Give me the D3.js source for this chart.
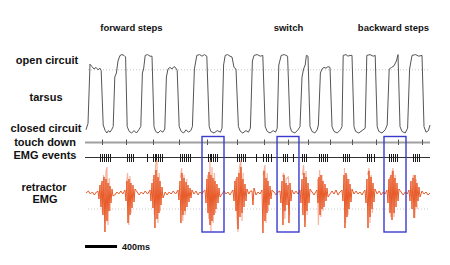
<!DOCTYPE html>
<html><head><meta charset="utf-8">
<script src="https://cdn.jsdelivr.net/npm/d3@7"></script>
<style>
html,body{margin:0;padding:0;background:#fff;}
svg{display:block;}
text{font-family:"Liberation Sans",Arial,sans-serif;font-weight:bold;fill:#111;}
</style></head>
<body>
<svg id="chart" width="450" height="265"></svg>
<script>
// ---- data (time in ms) ----
const phaseLabels = [["forward steps",569],["switch",2531],["backward steps",3844]];
const rowLabels = ["open circuit","tarsus","closed circuit","touch down","EMG events","retractor","EMG"];
const scaleBarMs = 400;
const scaleBarStart = -12;
const scaleBarLabel = "400ms";

// tarsus position trace [t, value] (0 = closed circuit, 100 = open)
const tarsus = [
[0,4],[25,12],[50,86],[75,83],[100,80],[125,82],[150,79],[175,81],[190,78],
[215,10],[240,3],[260,0],[280,3],[300,1],[320,4],[340,8],
[360,70],[380,75],[400,90],[425,97],[450,98],[475,97],[495,95],
[515,8],[540,2],[570,0],[600,3],[630,0],[660,4],[685,8],
[705,75],[720,80],[740,97],[770,98],[800,96],[825,96],
[850,8],[870,2],[900,0],[930,3],[960,1],[985,5],
[1005,70],[1025,80],[1050,82],[1075,80],[1100,83],[1125,81],[1140,78],
[1165,8],[1190,2],[1220,0],[1250,4],[1280,1],[1310,3],[1330,8],
[1355,80],[1385,97],[1420,98],[1450,96],[1480,98],[1510,96],
[1540,8],[1560,2],[1600,0],[1640,3],[1680,1],[1700,6],
[1720,85],[1740,97],[1770,98],[1800,96],[1825,95],[1850,82],[1875,80],
[1905,8],[1930,2],[1960,0],[2000,3],[2030,1],[2055,6],
[2080,90],[2100,97],[2140,98],[2180,96],[2210,97],
[2240,8],[2265,2],[2300,0],[2340,3],[2370,1],[2390,6],
[2410,85],[2440,97],[2480,98],[2520,96],
[2550,8],[2570,2],[2610,0],[2650,4],[2675,8],
[2700,70],[2720,80],[2740,85],[2755,97],[2775,96],
[2800,8],[2825,2],[2860,0],[2890,4],[2905,10],
[2930,75],[2950,80],[2975,82],[3000,81],[3025,83],[3050,82],
[3075,8],[3100,2],[3140,0],[3180,4],[3200,8],
[3215,97],[3250,98],[3275,96],[3300,97],[3325,97],
[3350,8],[3370,2],[3410,0],[3450,3],[3490,6],
[3510,97],[3550,98],[3590,96],[3615,97],
[3640,8],[3660,2],[3700,0],[3740,4],[3765,10],
[3790,80],[3820,82],[3850,84],[3880,90],[3900,98],
[3925,8],[3950,2],[3990,0],[4020,6],
[4045,80],[4075,97],[4120,98],[4160,96],[4200,97],
[4225,8],[4250,1],[4280,3],[4300,10]
];
const openLevel = 79; // dotted reference line

// touch down events
const touchDown = [200,500,838,1162,1512,1888,2225,2525,2775,3050,3325,3625,3900,4200];

// EMG spike events
const emgEvents = [175,200,225,250,275,300, 512,538,562,588, 762,
 838,862,875,900,925,950, 1175,1200,1225,1250,1275,1300,
 1525,1550,1562,1588,1612,1638, 1888,1912,1938,1962,1988, 2125,
 2212,2250,2275,2312, 2462,2488,2512, 2588, 2700,2725,2750,
 2912,2938,2962,2988,3012, 3212,3238,3262,3288, 3512,3538,3562,3600,
 3788,3812,3838,3862,3888, 4088,4112,4138,4162];

// retractor EMG (dark trace) [t, value]
const emgBursts = [
[150,2],[162,-6],[175,8],[187,-14],[200,12],[212,-22],[225,16],[237,-39],[250,14],[262,-28],[275,10],[287,-18],[300,7],[312,-10],[325,4],[337,-3],
[487,3],[500,-8],[512,12],[525,-30],[537,14],[550,-22],[562,10],[575,-15],[587,8],[600,-9],[612,4],
[800,3],[812,-8],[825,10],[837,-15],[850,18],[862,-35],[875,23],[887,-26],[900,16],[912,-20],[925,12],[937,-12],[950,6],[962,-5],
[1150,3],[1162,-7],[1175,12],[1187,-30],[1200,20],[1212,-22],[1225,15],[1237,-18],[1250,11],[1262,-14],[1275,8],[1287,-9],[1300,5],[1312,-5],[1325,3],
[1487,3],[1500,-10],[1512,14],[1525,-20],[1537,21],[1550,-32],[1562,18],[1575,-28],[1587,15],[1600,-22],[1612,12],[1625,-16],[1637,9],[1650,-10],[1662,5],[1675,-4],
[1837,3],[1850,-8],[1862,12],[1875,-18],[1887,16],[1900,-36],[1912,20],[1925,-24],[1937,26],[1950,-20],[1962,14],[1975,-14],[1987,9],[2000,-8],[2012,4],
[2075,2],[2087,-12],[2100,5],
[2200,3],[2212,-40],[2225,22],[2237,-28],[2250,15],[2262,-20],[2275,12],[2287,-12],[2300,7],[2312,-6],[2325,3],
[2425,2],[2437,-10],[2450,12],[2462,-32],[2475,18],[2487,-18],[2500,10],[2512,-12],[2525,8],[2537,-30],[2550,10],[2562,-8],[2575,3],
[2675,3],[2687,-10],[2700,14],[2712,-22],[2725,20],[2737,-34],[2750,16],[2762,-18],[2775,10],[2787,-10],[2800,4],
[2887,3],[2900,-10],[2912,16],[2925,-22],[2937,18],[2950,-16],[2962,12],[2975,-14],[2987,9],[3000,-8],[3012,5],[3025,-4],
[3200,3],[3212,-8],[3225,18],[3237,-35],[3250,20],[3262,-24],[3275,14],[3287,-16],[3300,9],[3312,-9],[3325,4],
[3487,3],[3500,-10],[3512,14],[3525,-35],[3537,22],[3550,-24],[3562,16],[3575,-16],[3587,10],[3600,-9],[3612,4],
[3762,3],[3775,-10],[3787,14],[3800,-20],[3812,18],[3825,-27],[3837,22],[3850,-20],[3862,15],[3875,-14],[3887,10],[3900,-8],[3912,4],
[4037,3],[4050,-8],[4062,12],[4075,-16],[4087,15],[4100,-25],[4112,18],[4125,-14],[4137,10],[4150,-8],[4162,6],[4175,-4]
];
// baseline noise between bursts
const emgNoise = [
[0,0],[30,2],[55,-1],[80,1],[105,-2],[130,1],
[360,-2],[385,1],[410,-1],[435,2],[460,-1],
[640,1],[665,-2],[690,1],[715,-1],[740,2],[770,-1],
[990,1],[1015,-2],[1040,1],[1065,-1],[1090,2],[1120,-1],
[1350,-1],[1375,2],[1400,-2],[1425,1],[1450,-1],[1470,2],
[1700,-1],[1725,2],[1750,-1],[1775,1],[1800,-2],[1820,1],
[2035,-1],[2055,2],[2125,-2],[2150,1],[2175,-1],
[2350,1],[2375,-2],[2400,1],
[2600,-1],[2625,2],[2650,-1],
[2825,1],[2850,-2],[2870,1],
[3050,-1],[3075,2],[3100,-1],[3125,3],[3150,-2],[3175,1],
[3350,-1],[3375,2],[3400,-1],[3425,1],[3450,-2],[3470,1],
[3640,-1],[3665,2],[3690,-2],[3715,1],[3740,-1],
[3940,1],[3965,-2],[3990,1],[4015,-1],
[4200,2],[4225,-1],[4250,1],[4275,-2],[4300,0]
];
// large faint spikes (light trace)
const emgLight = [
[[190,10],[205,-20],[220,18],[235,-30],[250,22],[262,26],[275,-32],[290,15],[305,-18]],
[[505,8],[520,20],[535,-32],[550,17],[565,-20]],
[[840,14],[855,-22],[870,28],[887,33],[900,-30],[915,20],[930,-18]],
[[1180,15],[1195,25],[1210,-28],[1225,18],[1240,-22],[1260,14]],
[[1520,18],[1535,-26],[1550,33],[1562,-39],[1575,26],[1590,-30],[1605,20],[1620,-20]],
[[1870,14],[1885,-22],[1900,-39],[1915,24],[1935,33],[1950,-28],[1965,20]],
[[2215,18],[2237,28],[2250,-30],[2265,20],[2280,-18]],
[[2455,16],[2470,20],[2485,-26],[2500,14],[2530,16],[2545,-22]],
[[2705,18],[2720,28],[2735,-28],[2750,22],[2765,-22]],
[[2895,14],[2905,-32],[2920,23],[2935,-24],[2950,18],[2965,-18]],
[[3230,25],[3245,-30],[3260,18],[3275,-22],[3290,14]],
[[3520,18],[3537,25],[3550,-30],[3565,18],[3580,-20]],
[[3795,16],[3810,-24],[3825,20],[3837,25],[3850,-24],[3865,18]],
[[4080,14],[4095,18],[4110,-25],[4125,14],[4140,-16]]
];
const emgRef = -16; // dotted reference line
// highlighted step windows [start, end]
const highlights = [[1450,1725],[2388,2662],[3725,4000]];

// ---- drawing ----
const svg = d3.select("#chart");
const x = d3.scaleLinear().domain([0,4300]).range([86,430]);
const yT = d3.scaleLinear().domain([0,100]).range([133,53]);
const yE = d3.scaleLinear().domain([-45,35]).range([238,158]);
const yTouch = 142.5, yEvents = 157.5;

// row labels
const labelPos = [[47,64],[46,101],[46,132],[45,146],[45,159],[44,191],[45,203]];
svg.append("g").selectAll("text").data(rowLabels).join("text")
  .attr("x",(d,i)=>labelPos[i][0]).attr("y",(d,i)=>labelPos[i][1])
  .attr("text-anchor","middle").attr("font-size",11).text(d=>d);

// phase labels
svg.append("g").selectAll("text").data(phaseLabels).join("text")
  .attr("x",d=>x(d[1])).attr("y",31).attr("text-anchor","middle")
  .attr("font-size",9.5).text(d=>d[0]);

// dotted reference lines
svg.append("line").attr("x1",x(0)+2).attr("x2",x(4300)).attr("y1",yT(openLevel)).attr("y2",yT(openLevel))
  .attr("stroke","#c8c8c8").attr("stroke-width",1).attr("stroke-dasharray","1,2");
svg.append("line").attr("x1",x(0)+2).attr("x2",x(4300)).attr("y1",yE(emgRef)).attr("y2",yE(emgRef))
  .attr("stroke","#c8c8c8").attr("stroke-width",1).attr("stroke-dasharray","1,2");

// tarsus trace
svg.append("path").datum(tarsus)
  .attr("d",d3.line().x(d=>x(d[0])).y(d=>yT(d[1])))
  .attr("fill","none").attr("stroke","#555").attr("stroke-width",1);

// touch down line + ticks
svg.append("line").attr("x1",x(0)-1).attr("x2",x(4300)).attr("y1",yTouch).attr("y2",yTouch)
  .attr("stroke","#a0a0a0").attr("stroke-width",2);
svg.append("g").selectAll("line").data(touchDown).join("line")
  .attr("x1",d=>Math.round(x(d))+0.5).attr("x2",d=>Math.round(x(d))+0.5).attr("y1",yTouch-3).attr("y2",yTouch+2.5)
  .attr("stroke","#555").attr("stroke-width",1);

// EMG events line + ticks
svg.append("line").attr("x1",x(0)-1).attr("x2",x(4300)).attr("y1",yEvents).attr("y2",yEvents)
  .attr("stroke","#333").attr("stroke-width",1);
svg.append("g").attr("shape-rendering","crispEdges").selectAll("line").data(emgEvents).join("line")
  .attr("x1",d=>Math.round(x(d))+0.5).attr("x2",d=>Math.round(x(d))+0.5).attr("y1",yEvents-4).attr("y2",yEvents+4)
  .attr("stroke","#1a1a1a").attr("stroke-width",1);

// EMG light spikes
svg.append("g").selectAll("path").data(emgLight).join("path")
  .attr("d",d3.line().x(d=>x(d[0])).y(d=>yE(d[1])))
  .attr("fill","none").attr("stroke","#f2a388").attr("stroke-width",1.2).attr("opacity",0.8);

// EMG dark trace
const emgAll = emgNoise.concat(emgBursts).sort((a,b)=>a[0]-b[0]);
svg.append("path").datum(emgAll)
  .attr("d",d3.line().x(d=>x(d[0])).y(d=>yE(d[1])))
  .attr("fill","none").attr("stroke","#e85a28").attr("stroke-width",1);

// highlight boxes
svg.append("g").selectAll("rect").data(highlights).join("rect")
  .attr("x",d=>x(d[0])).attr("width",d=>x(d[1])-x(d[0]))
  .attr("y",136.5).attr("height",95.5)
  .attr("fill","none").attr("stroke","#3a3acc").attr("stroke-width",1.4);

// scale bar
svg.append("line").attr("x1",x(scaleBarStart)).attr("x2",x(scaleBarStart+scaleBarMs))
  .attr("y1",246.5).attr("y2",246.5).attr("stroke","#000").attr("stroke-width",3);
svg.append("text").attr("x",x(scaleBarStart+scaleBarMs)+5).attr("y",250)
  .attr("font-size",9).text(scaleBarLabel);
</script>
</body></html>
